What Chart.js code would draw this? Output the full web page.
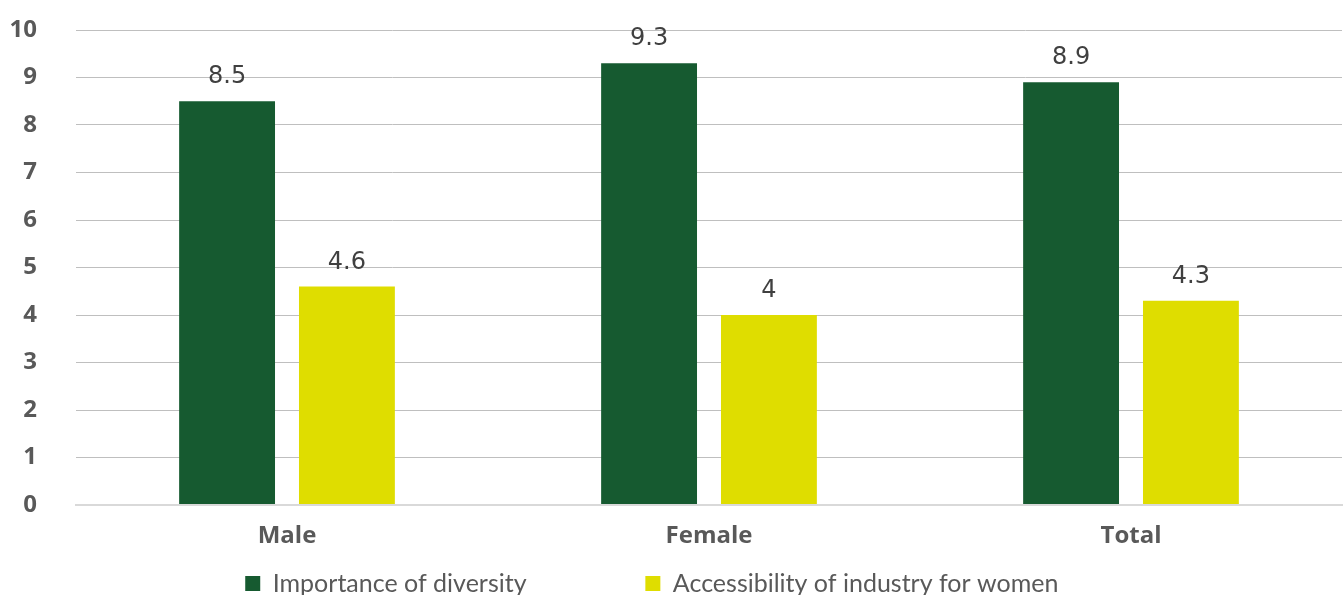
<!DOCTYPE html>
<html>
<head>
<meta charset="utf-8">
<script src="https://cdn.jsdelivr.net/npm/chart.js@4/dist/chart.umd.min.js"></script>
<style>
  html, body { margin: 0; padding: 0; background: #fff; }
  #wrap { width: 1344px; height: 595px; }
</style>
</head>
<body>
<div id="wrap"><canvas id="myChart"></canvas></div>
<script>
// data
var groups = ['Male', 'Female', 'Total']
var diversity = [8.5, 9.3, 8.9]
var accessibility = [4.6, 4, 4.3]
var yTicks = [0, 1, 2, 3, 4, 5, 6, 7, 8, 9, 10]

// trailing spaces stretch the legend items to the reference spacing
var pad1 = ' '.repeat(17)
var pad2 = ' '.repeat(6)

// value labels over the bars
var barLabels = {
  id: 'barLabels',
  afterDatasetsDraw: function(chart) {
    var c = chart.ctx
    c.save()
    c.font = '24px "DejaVu Sans"'
    c.fillStyle = '#404040'
    c.textAlign = 'center'
    c.textBaseline = 'alphabetic'
    chart.data.datasets.forEach(function(ds, i) {
      chart.getDatasetMeta(i).data.forEach(function(bar, j) {
        c.fillText(String(ds.data[j]), bar.x, bar.y - 18)
      })
    })
    c.restore()
  }
}

const ctx = document.getElementById('myChart');

new Chart(ctx, {
  type: 'bar',
  data: {
    labels: groups,
    datasets: [{
      label: 'Importance of diversity' + pad1,
      data: diversity,
      backgroundColor: '#165a30',
      borderWidth: 0
    }, {
      label: 'Accessibility of industry for women' + pad2,
      data: accessibility,
      backgroundColor: '#dfdd00',
      borderWidth: 0
    }]
  },
  plugins: [barLabels],
  options: {
    responsive: true,
    maintainAspectRatio: false,
    animation: false,
    categoryPercentage: 0.568,
    barPercentage: 0.8,
    layout: { padding: { top: 30, right: 2, left: 0, bottom: -11 } },
    plugins: {
      tooltip: { enabled: false },
      legend: {
        position: 'bottom',
        labels: {
          boxWidth: 15,
          boxHeight: 15,
          padding: 10,
          color: '#595959',
          font: { family: 'Lato', size: 25 }
        }
      }
    },
    scales: {
      x: {
        grid: { display: false },
        border: { display: true, color: '#d9d9d9', width: 2 },
        ticks: {
          padding: 9,
          color: '#595959',
          font: { family: 'Open Sans', size: 24, weight: 'bold' }
        },
        afterFit: function(scale) { scale.height = 56 }
      },
      y: {
        min: 0,
        max: 10,
        afterBuildTicks: function(scale) {
          scale.ticks = yTicks.map(function(v) { return { value: v } })
        },
        border: { display: false },
        grid: {
          drawTicks: false,
          color: function(c) { return c.tick && c.tick.value === 0 ? '#d9d9d9' : '#bfbfbf' },
          lineWidth: function(c) { return c.tick && c.tick.value === 0 ? 2 : 1 }
        },
        ticks: {
          padding: 39,
          color: '#595959',
          font: { family: 'Open Sans', size: 24, weight: 'bold' }
        },
        afterFit: function(scale) {
          scale.width = 76
          // the tick padding should not push the plot top down
          scale.paddingTop = 0
          scale.paddingBottom = 0
        }
      }
    }
  }
});
</script>
</body>
</html>
